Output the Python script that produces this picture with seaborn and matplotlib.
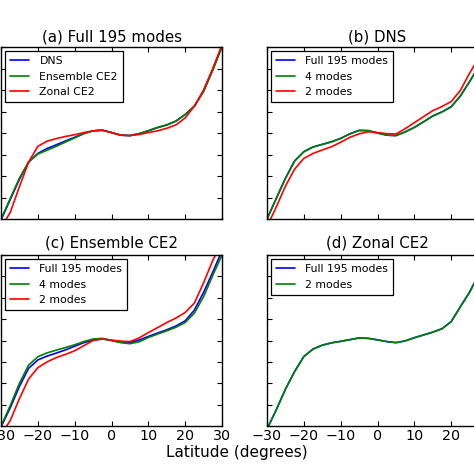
import numpy as np
import pandas as pd
import matplotlib
matplotlib.use("Agg")
import matplotlib.pyplot as plt
import seaborn as sns

# latitude grid (degrees)
lat = [-30, -27.5, -25, -22.5, -20, -17.5, -15, -12.5, -10, -7.5, -5, -2.5,
       0, 2.5, 5, 7.5, 10, 12.5, 15, 17.5, 20, 22.5, 25, 27.5, 30]

# (a) Full 195 modes
a_dns = [-4.05, -3.1, -2.15, -1.35, -0.95, -0.72, -0.55, -0.37, -0.2, -0.02, 0.1, 0.13,
         0.02, -0.1, -0.12, -0.03, 0.1, 0.25, 0.37, 0.55, 0.86, 1.25, 1.95, 2.95, 4.05]
a_ens = [-4.0, -3.05, -2.1, -1.35, -0.98, -0.8, -0.62, -0.42, -0.23, -0.03, 0.1, 0.13,
         0.02, -0.1, -0.12, -0.03, 0.11, 0.26, 0.38, 0.56, 0.86, 1.25, 1.93, 2.92, 4.0]
a_zon = [-4.4, -3.7, -2.5, -1.35, -0.62, -0.38, -0.26, -0.16, -0.08, 0.02, 0.1, 0.13,
         0.02, -0.1, -0.12, -0.07, 0.02, 0.1, 0.22, 0.38, 0.7, 1.25, 2.0, 3.0, 4.1]

# (b) DNS
b_full = [-4.0, -3.05, -2.11, -1.3, -0.87, -0.65, -0.53, -0.41, -0.25, -0.04, 0.12, 0.11,
          0.0, -0.1, -0.12, 0.05, 0.26, 0.52, 0.79, 0.98, 1.22, 1.72, 2.39, 3.1, 4.0]
b_4 = [-4.0, -3.05, -2.11, -1.3, -0.87, -0.65, -0.53, -0.41, -0.25, -0.04, 0.12, 0.11,
       0.0, -0.1, -0.12, 0.05, 0.26, 0.52, 0.79, 0.98, 1.22, 1.72, 2.39, 3.1, 4.0]
b_2 = [-4.35, -3.45, -2.47, -1.68, -1.18, -0.95, -0.79, -0.64, -0.43, -0.2, -0.04, 0.06,
       0.02, -0.03, -0.05, 0.2, 0.48, 0.76, 1.04, 1.23, 1.46, 1.98, 2.78, 3.5, 4.5]

# (c) Ensemble CE2
c_full = [-4.05, -3.15, -2.15, -1.3, -0.91, -0.73, -0.59, -0.44, -0.27, -0.1, 0.02, 0.08,
          0.0, -0.08, -0.1, 0.02, 0.19, 0.35, 0.5, 0.68, 0.92, 1.42, 2.25, 3.2, 4.2]
c_4 = [-4.0, -3.05, -2.0, -1.15, -0.76, -0.58, -0.45, -0.33, -0.2, -0.05, 0.07, 0.1,
       0.0, -0.1, -0.15, -0.06, 0.14, 0.3, 0.45, 0.62, 0.84, 1.28, 2.05, 3.05, 4.0]
c_2 = [-4.4, -3.75, -2.72, -1.8, -1.27, -1.0, -0.8, -0.65, -0.48, -0.24, 0.0, 0.07,
       0.02, -0.03, -0.05, 0.12, 0.37, 0.6, 0.84, 1.05, 1.31, 1.75, 2.7, 3.75, 4.6]

# (d) Zonal CE2
d_full = [-4.15, -3.25, -2.28, -1.45, -0.75, -0.4, -0.22, -0.11, -0.04, 0.04, 0.12, 0.1,
          0.03, -0.05, -0.1, -0.02, 0.13, 0.26, 0.39, 0.55, 0.88, 1.58, 2.26, 3.1, 4.0]
d_2 = [-4.15, -3.25, -2.28, -1.45, -0.75, -0.4, -0.22, -0.11, -0.04, 0.04, 0.12, 0.1,
       0.03, -0.05, -0.1, -0.02, 0.13, 0.26, 0.39, 0.55, 0.88, 1.58, 2.26, 3.1, 4.0]

xticks = [-30, -20, -10, 0, 10, 20, 30]
yticks = [-4, -3, -2, -1, 0, 1, 2, 3, 4]

sns.set_theme(style="ticks")
plt.rcParams['font.family'] = ['DejaVu Sans']
plt.rcParams['axes.linewidth'] = 1.0
plt.rcParams['text.color'] = 'black'
plt.rcParams['xtick.color'] = 'black'
plt.rcParams['ytick.color'] = 'black'


def make_df(series):
    rows = []
    for name, vals in series:
        for x, y in zip(lat, vals):
            rows.append({"lat": x, "val": y, "series": name})
    return pd.DataFrame(rows)


panels = [
    ("(a) Full 195 modes", [("DNS", a_dns), ("Ensemble CE2", a_ens), ("Zonal CE2", a_zon)]),
    ("(b) DNS", [("Full 195 modes", b_full), ("4 modes", b_4), ("2 modes", b_2)]),
    ("(c) Ensemble CE2", [("Full 195 modes", c_full), ("4 modes", c_4), ("2 modes", c_2)]),
    ("(d) Zonal CE2", [("Full 195 modes", d_full), ("2 modes", d_2)]),
]
colors = ["#0000ff", "#008000", "#ff0000"]

fig = plt.figure(figsize=(4.74, 4.74), dpi=100)
W, H = 474.0, 474.0
boxes = [(1, 47, 221, 172), (267, 47, 221, 172), (1, 255, 221, 171), (267, 255, 221, 171)]

for i, ((title, series), (x0, y0, w, h)) in enumerate(zip(panels, boxes)):
    ax = fig.add_axes([x0 / W, 1 - (y0 + h) / H, w / W, h / H])
    df = make_df(series)
    names = [s[0] for s in series]
    pal = dict(zip(names, colors[:len(names)]))
    sns.lineplot(data=df, x="lat", y="val", hue="series", hue_order=names,
                 palette=pal, linewidth=1.2, estimator=None, sort=False, ax=ax)
    ax.set_xlim(-30, 30)
    ax.set_ylim(-4, 4)
    ax.set_xticks(xticks)
    ax.set_yticks(yticks)
    ax.set_xlabel("")
    ax.set_ylabel("")
    ax.tick_params(direction="in", top=True, right=True, length=3.5, width=0.8,
                   labelleft=False, labelbottom=(i >= 2), labelsize=10.3, pad=2,
                   color="black", labelcolor="black")
    ax.set_xticklabels([f"\u2212{abs(t)}" if t < 0 else str(t) for t in xticks])
    for sp in ax.spines.values():
        sp.set_color("black")
        sp.set_linewidth(1.0)
    ax.set_title(title, fontsize=10.8, pad=4 if i < 2 else 5.5, color="black")
    leg = ax.legend(loc="upper left", fontsize=7.8, frameon=True, fancybox=False,
                    edgecolor="black", framealpha=1, borderpad=0.45,
                    labelspacing=0.5, handlelength=1.7, handletextpad=1.0,
                    borderaxespad=0.4)
    leg.get_frame().set_linewidth(0.9)
    for t in leg.get_texts():
        t.set_color("black")
    for ln in leg.get_lines():
        ln.set_linewidth(1.2)

fig.text(0.5, 1 - 453 / H, "Latitude (degrees)", ha="center", va="center",
         fontsize=11, color="black")

fig.savefig("out.png", dpi=100)
